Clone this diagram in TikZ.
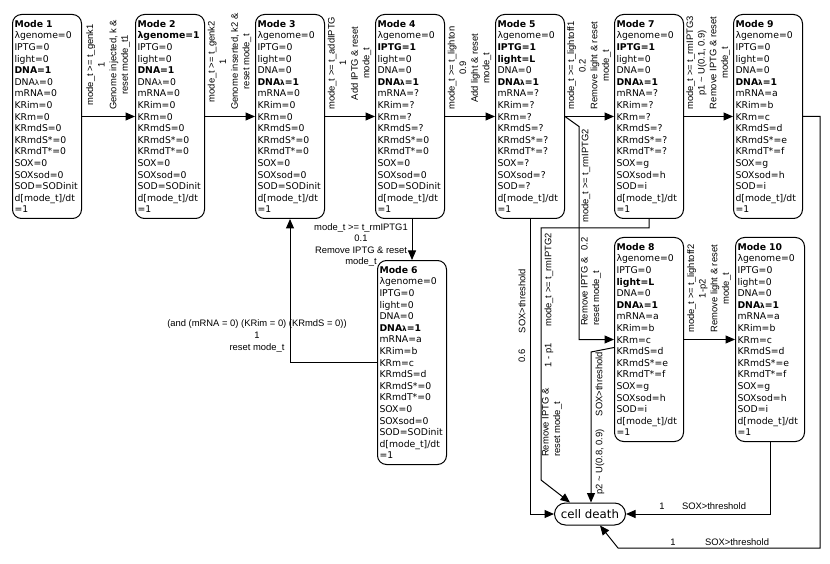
\documentclass[tikz,border=0pt]{standalone}
\usepackage{fontspec}
\setmainfont{DejaVu Sans}
\newfontfamily\lblfont{Liberation Sans}
\usetikzlibrary{arrows.meta,calc}
\newcommand\dl{DNA{\fontsize{7.2}{9}\selectfont λ}}
\newcommand\tl{d[mode\_t]/dt\\ =1}
\tikzset{
 modebox/.style={draw, line width=1pt, rounded corners=9pt, anchor=north west, minimum width=69pt, minimum height=204pt, text width=65pt, inner sep=2pt, align=left, font=\fontsize{9.3}{11.6}\selectfont},
 lbl/.style={font=\lblfont\fontsize{9.4}{11.6}\selectfont, align=center, inner sep=1pt},
 rlbl/.style={lbl, rotate=90, anchor=west},
 vlbl/.style={lbl, rotate=90},
 edge/.style={line width=1pt, -{Triangle[length=9.5pt,width=8pt]}},
}
\begin{document}
\begin{tikzpicture}[x=1pt,y=-1pt]
\useasboundingbox (0,0) rectangle (830,564);

\node[modebox] (m1) at (12,14) {\textbf{Mode 1}\\ λgenome=0\\ IPTG=0\\ light=0\\ \textbf{DNA=1}\\ \dl=0\\ mRNA=0\\ KRim=0\\ KRm=0\\ KRmdS=0\\ KRmdS*=0\\ KRmdT*=0\\ SOX=0\\ SOXsod=0\\ SOD=SODinit\\ \tl};
\node[modebox] (m2) at (135,14) {\textbf{Mode 2}\\ \textbf{λgenome=1}\\ IPTG=0\\ light=0\\ \textbf{DNA=1}\\ \dl=0\\ mRNA=0\\ KRim=0\\ KRm=0\\ KRmdS=0\\ KRmdS*=0\\ KRmdT*=0\\ SOX=0\\ SOXsod=0\\ SOD=SODinit\\ \tl};
\node[modebox] (m3) at (255,14) {\textbf{Mode 3}\\ λgenome=0\\ IPTG=0\\ light=0\\ DNA=0\\ \textbf{\dl=1}\\ mRNA=0\\ KRim=0\\ KRm=0\\ KRmdS=0\\ KRmdS*=0\\ KRmdT*=0\\ SOX=0\\ SOXsod=0\\ SOD=SODinit\\ \tl};
\node[modebox] (m4) at (375,14) {\textbf{Mode 4}\\ λgenome=0\\ \textbf{IPTG=1}\\ light=0\\ DNA=0\\ \textbf{\dl=1}\\ mRNA=?\\ KRim=?\\ KRm=?\\ KRmdS=?\\ KRmdS*=0\\ KRmdT*=0\\ SOX=0\\ SOXsod=0\\ SOD=SODinit\\ \tl};
\node[modebox] (m5) at (495,14) {\textbf{Mode 5}\\ λgenome=0\\ \textbf{IPTG=1}\\ \textbf{light=L}\\ DNA=0\\ \textbf{\dl=1}\\ mRNA=?\\ KRim=?\\ KRm=?\\ KRmdS=?\\ KRmdS*=?\\ KRmdT*=?\\ SOX=?\\ SOXsod=?\\ SOD=?\\ \tl};
\node[modebox] (m7) at (614,14) {\textbf{Mode 7}\\ λgenome=0\\ \textbf{IPTG=1}\\ light=0\\ DNA=0\\ \textbf{\dl=1}\\ mRNA=?\\ KRim=?\\ KRm=?\\ KRmdS=?\\ KRmdS*=?\\ KRmdT*=?\\ SOX=g\\ SOXsod=h\\ SOD=i\\ \tl};
\node[modebox] (m9) at (733,14) {\textbf{Mode 9}\\ λgenome=0\\ IPTG=0\\ light=0\\ DNA=0\\ \textbf{\dl=1}\\ mRNA=a\\ KRim=b\\ KRm=c\\ KRmdS=d\\ KRmdS*=e\\ KRmdT*=f\\ SOX=g\\ SOXsod=h\\ SOD=i\\ \tl};
\node[modebox] (m6) at (377,260) {\textbf{Mode 6}\\ λgenome=0\\ IPTG=0\\ light=0\\ DNA=0\\ \textbf{\dl=1}\\ mRNA=a\\ KRim=b\\ KRm=c\\ KRmdS=d\\ KRmdS*=0\\ KRmdT*=0\\ SOX=0\\ SOXsod=0\\ SOD=SODinit\\ \tl};
\node[modebox] (m8) at (614,237) {\textbf{Mode 8}\\ λgenome=0\\ IPTG=0\\ \textbf{light=L}\\ DNA=0\\ \textbf{\dl=1}\\ mRNA=a\\ KRim=b\\ KRm=c\\ KRmdS=d\\ KRmdS*=e\\ KRmdT*=f\\ SOX=g\\ SOXsod=h\\ SOD=i\\ \tl};
\node[modebox] (m10) at (735,237) {\textbf{Mode 10}\\ λgenome=0\\ IPTG=0\\ light=0\\ DNA=0\\ \textbf{\dl=1}\\ mRNA=a\\ KRim=b\\ KRm=c\\ KRmdS=d\\ KRmdS*=e\\ KRmdT*=f\\ SOX=g\\ SOXsod=h\\ SOD=i\\ \tl};

\node[draw, line width=1pt, rounded corners=11pt, minimum width=71pt, minimum height=22pt, inner sep=0pt, font=\fontsize{11.8}{13}\selectfont] (cd) at (590,514) {cell death};

% top row transitions
\draw[edge] (m1.east) -- (m2.west);
\node[rlbl] at (108,111) {mode\_t >= t\_genk1\\ 1\\ Genome injected, k \&\\ reset mode\_t1};
\draw[edge] (m2.east) -- (m3.west);
\node[rlbl] at (229.5,111) {mode\_t >= t\_genk2\\ 1\\ Genome inserted, k2 \&\\ reset mode\_t};
\draw[edge] (m3.east) -- (m4.west);
\node[rlbl] at (349.5,111) {mode\_t >= t\_addIPTG\\ 1\\ Add IPTG \& reset\\ mode\_t};
\draw[edge] (m4.east) -- (m5.west);
\node[rlbl] at (469.5,111) {mode\_t >= t\_lighton\\ 0.9\\ Add light \& reset\\ mode\_t};
\draw[edge] (m5.east) -- (m7.west);
\node[rlbl] at (589,111) {mode\_t >= t\_lightoff1\\ 0.2\\ Remove light \& reset\\ mode\_t};
\draw[edge] (m7.east) -- (m9.west);
\node[rlbl] at (708,111) {mode\_t >= t\_rmIPTG3\\ p1 \textasciitilde{} U(0.1, 0.9)\\ Remove IPTG \& reset\\ mode\_t};
\draw[edge] (m8.east) -- (m10.west);
\node[rlbl] at (709,334) {mode\_t >= t\_lightoff2\\ 1-p2\\ Remove light \& reset\\ mode\_t};

% mode 4 -> mode 6
\draw[edge] (m6.north |- m4.south) -- (m6.north);
\node[lbl] at (361,245) {mode\_t >= t\_rmIPTG1\\ 0.1\\ Remove IPTG \& reset\\ mode\_t};

% mode 6 -> mode 3
\draw[edge] (m6.west) -| (m3.south);
\node[lbl] at (257,336) {(and (mRNA = 0) (KRim = 0) (KRmdS = 0))\\ 1\\ reset mode\_t};

% mode 5 -> mode 8
\draw[edge] (m5.east) -- ++(14,10) |- (m8.west);
\node[vlbl] at (586,176) {mode\_t >= t\_rmIPTG2};
\node[vlbl, anchor=west, align=left] at (591,327) {Remove IPTG \&\hspace{7pt}0.2\\ reset mode\_t};

% mode 5 -> cell death
\draw[edge] (m5.south) |- (cd.west);
\node[vlbl] at (522,301) {SOX>threshold};
\node[vlbl] at (522,356) {0.6};

% mode 7 -> cell death
\coordinate (k1) at (541,228);
\coordinate (k2) at (541,480);
\draw[edge] (m7.south) |- (k1) -- (k2) -- ($(cd.north west)+(16,0)$);
\node[vlbl] at (549,280) {mode\_t >= t\_rmIPTG2};
\node[vlbl] at (549,355) {1 - p1};
\node[vlbl, anchor=west, align=left] at (552,458) {Remove IPTG \&\\ reset mode\_t};

% mode 8 -> cell death
\coordinate (k3) at (591,352);
\draw[edge] ($(m8.west)+(0,8)$) -- (k3) -- (k3 |- cd.north);
\node[vlbl] at (599,384) {SOX>threshold};
\node[vlbl] at (600,462) {p2 \textasciitilde{} U(0.8, 0.9)};

% mode 10 -> cell death
\draw[edge] (m10.south) |- (cd.east);
\node[lbl] at (662,506) {1};
\node[lbl] at (714,506) {SOX>threshold};

% mode 9 -> cell death
\coordinate (k4) at (820,548);
\coordinate (k5) at (618,548);
\draw[edge] (m9.east) -| (k4) -- (k5) -- ($(cd.south)+(10,0)$);
\node[lbl] at (673,542) {1};
\node[lbl] at (737,542) {SOX>threshold};
\end{tikzpicture}
\end{document}
